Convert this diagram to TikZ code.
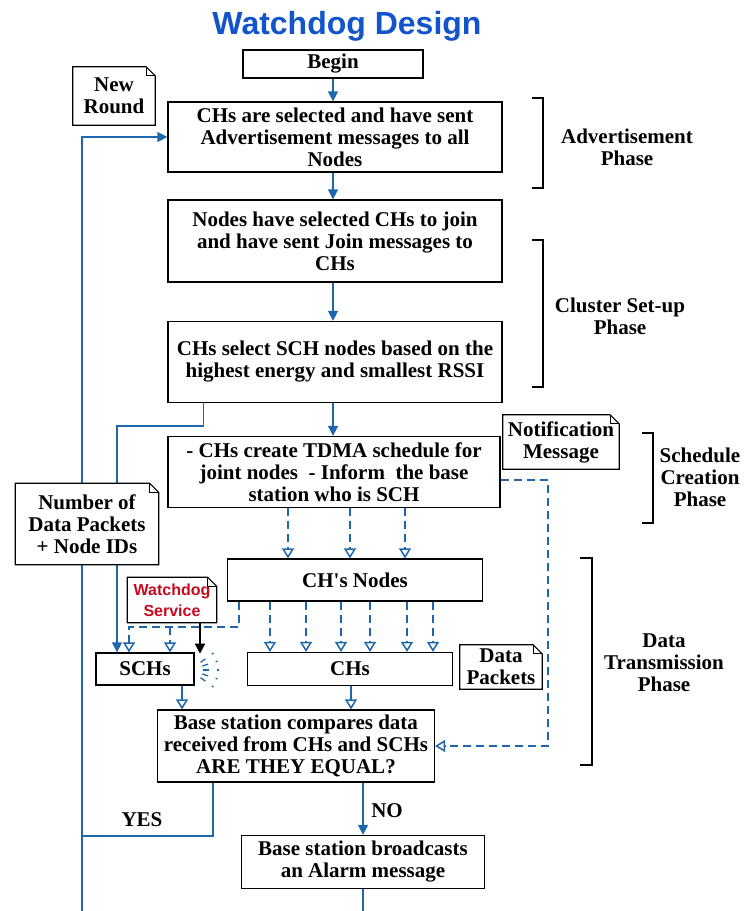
\documentclass[tikz,border=0pt]{standalone}
\usepackage{fontspec}
\setmainfont{Liberation Serif}
\setsansfont{Liberation Sans}
\usetikzlibrary{arrows.meta,backgrounds}

\definecolor{flowblue}{RGB}{31,103,172}
\definecolor{titleblue}{RGB}{18,84,204}
\definecolor{wdred}{RGB}{200,10,30}

\begin{document}
\begin{tikzpicture}[x=1pt, y=-1pt,
  box/.style={draw, line width=1.3pt, fill=white, align=center, inner sep=0pt,
    font=\fontsize{21}{22}\selectfont\bfseries},
  note/.style={fill=white, align=center, inner sep=0pt,
    font=\fontsize{21}{22}\selectfont\bfseries},
  phase/.style={align=center, font=\fontsize{21}{22}\selectfont\bfseries},
  flow/.style={flowblue, line width=1.5pt, -{Triangle[width=10pt,length=10pt]}},
  oflow/.style={flowblue, line width=1.5pt, -{Triangle[open,fill=white,width=12pt,length=10pt]}},
  dflow/.style={oflow, dash pattern=on 8pt off 5pt},
  bracket/.style={line width=1.6pt},
]
\useasboundingbox (0,0) rectangle (747,911);

\node[font=\fontsize{32}{36}\selectfont\sffamily\bfseries, text=titleblue] (title) at (347,26) {Watchdog Design};

% main column
\node[box, minimum width=180, minimum height=28] (begin) at (333,64) {Begin};
\node[box, minimum width=334, minimum height=70] (adv) at (335,137)
  {CHs are selected and have sent\\Advertisement messages to all\\Nodes};
\node[box, minimum width=334, minimum height=82] (join) at (335,241)
  {Nodes have selected CHs to join\\and have sent Join messages to\\CHs};
\node[box, minimum width=334, minimum height=81] (sel) at (335,362)
  {CHs select SCH nodes based on the\\highest energy and smallest RSSI};
\node[box, minimum width=332, minimum height=71] (tdma) at (334,472)
  {- CHs create TDMA schedule for\\joint nodes~~- Inform~~the base\\station who is SCH};
\node[box, minimum width=255, minimum height=42] (chn) at (355,580) {CH\textquotesingle s Nodes};
\node[box, minimum width=98, minimum height=32] (schs) at (145,669) {SCHs};
\node[box, minimum width=205, minimum height=33] (chs) at (350,669) {CHs};
\node[box, minimum width=277, minimum height=72] (base) at (296,746)
  {Base station compares data\\received from CHs and SCHs\\ARE THEY EQUAL?};
\node[box, minimum width=243, minimum height=53] (alarm) at (363,862)
  {Base station broadcasts\\an Alarm message};

% notes
\node[note, minimum width=82, minimum height=58] (newround) at (114,96) {New\\Round};
\node[note, minimum width=143, minimum height=81] (numpk) at (87,524)
  {Number of\\Data Packets\\+ Node IDs};
\node[note, minimum width=89, minimum height=45, text=wdred,
  font=\fontsize{16}{21}\selectfont\sffamily\bfseries] (wdog) at (172,600) {Watchdog\\Service};
\node[note, minimum width=116, minimum height=54] (notif) at (561,442) {Notification\\Message};
\node[note, minimum width=82, minimum height=44] (datapk) at (501,667) {Data\\Packets};

\foreach \n in {newround,numpk,wdog,notif,datapk}{
  \draw[line width=1.2pt] (\n.south west) -- (\n.north west) -- ([xshift=-9pt]\n.north east)
    -- ([yshift=-9pt]\n.north east) -- (\n.south east) -- cycle;
  \draw[line width=0.7pt] ([xshift=-9pt]\n.north east) -- ([xshift=-9pt,yshift=-9pt]\n.north east)
    -- ([yshift=-9pt]\n.north east);
}

% phases
\draw[bracket] (532,98) -- (543,98) -- (543,188) -- (532,188);
\node[phase] (advph) at (627,147) {Advertisement\\Phase};
\draw[bracket] (532,240) -- (543,240) -- (543,387) -- (532,387);
\node[phase] (clph) at (620,316) {Cluster Set-up\\Phase};
\draw[bracket] (642,433) -- (653,433) -- (653,523) -- (642,523);
\node[phase] (schph) at (700,477) {Schedule\\Creation\\Phase};
\draw[bracket] (580,558) -- (592,558) -- (592,765) -- (580,765);
\node[phase] (dtph) at (664,663) {Data\\Transmission\\Phase};

\coordinate (loopbot) at (82,911);
\coordinate (yesj) at (82,836);
\coordinate (notifx) at (548,480);
\coordinate (wdj) at (129,627);
\coordinate (sig) at (190,670);

\begin{pgfonlayer}{background}
\draw[flow] (begin) -- (begin |- adv.north);
\draw[flow] (adv.south -| begin) -- (join.north -| begin);
\draw[flow] (join.south -| begin) -- (sel.north -| begin);
\draw[flow] (sel.south -| begin) -- (tdma.north -| begin);
\draw[flow] (loopbot) |- (adv.west);
\draw[flow] ([xshift=36pt]sel.south west) -- ++(0,23) -| ([xshift=-28pt]schs.north);

\foreach \x in {288,350,405}
  \draw[dflow] (\x,0 |- tdma.south) -- (\x,0 |- chn.north);
\foreach \x in {270,306,341,370,407,433}
  \draw[dflow] (\x,0 |- chn.south) -- (\x,0 |- chs.north);
\draw[dflow] (239,0 |- chn.south) |- (wdj) -- (wdj |- schs.north);
\draw[dflow] (170,627) -- (170,0 |- schs.north);
\draw[dflow] ([yshift=-8pt]tdma.east) -- (notifx) |- (base.east);

\draw[oflow] (182,0 |- schs.south) -- (182,0 |- base.north);
\draw[oflow] (351,0 |- chs.south) -- (351,0 |- base.north);

\draw[flowblue, line width=1.5pt] ([xshift=56pt]base.south west) |- (yesj);
\node[font=\fontsize{21}{22}\selectfont\bfseries] (yes) at (142,820) {YES};
\draw[flow] (base.south -| alarm) -- (alarm.north);
\node[font=\fontsize{21}{22}\selectfont\bfseries] (no) at (387,811) {NO};
\draw[flowblue, line width=1.5pt] (alarm.south) -- (alarm.south |- loopbot);
\end{pgfonlayer}

\draw[line width=1.5pt, -{Triangle[width=10pt,length=10pt]}] ([xshift=28pt]wdog.south) -- ++(0,31);
% signal marks
\foreach \a in {-36,-18,0,18,36}{
  \draw[flowblue, line width=1.3pt] (sig) ++(\a:13) -- ++(\a:6);
  \draw[flowblue, line width=1.3pt] (sig) ++(\a:27) -- ++(\a:2);
}
\end{tikzpicture}
\end{document}
